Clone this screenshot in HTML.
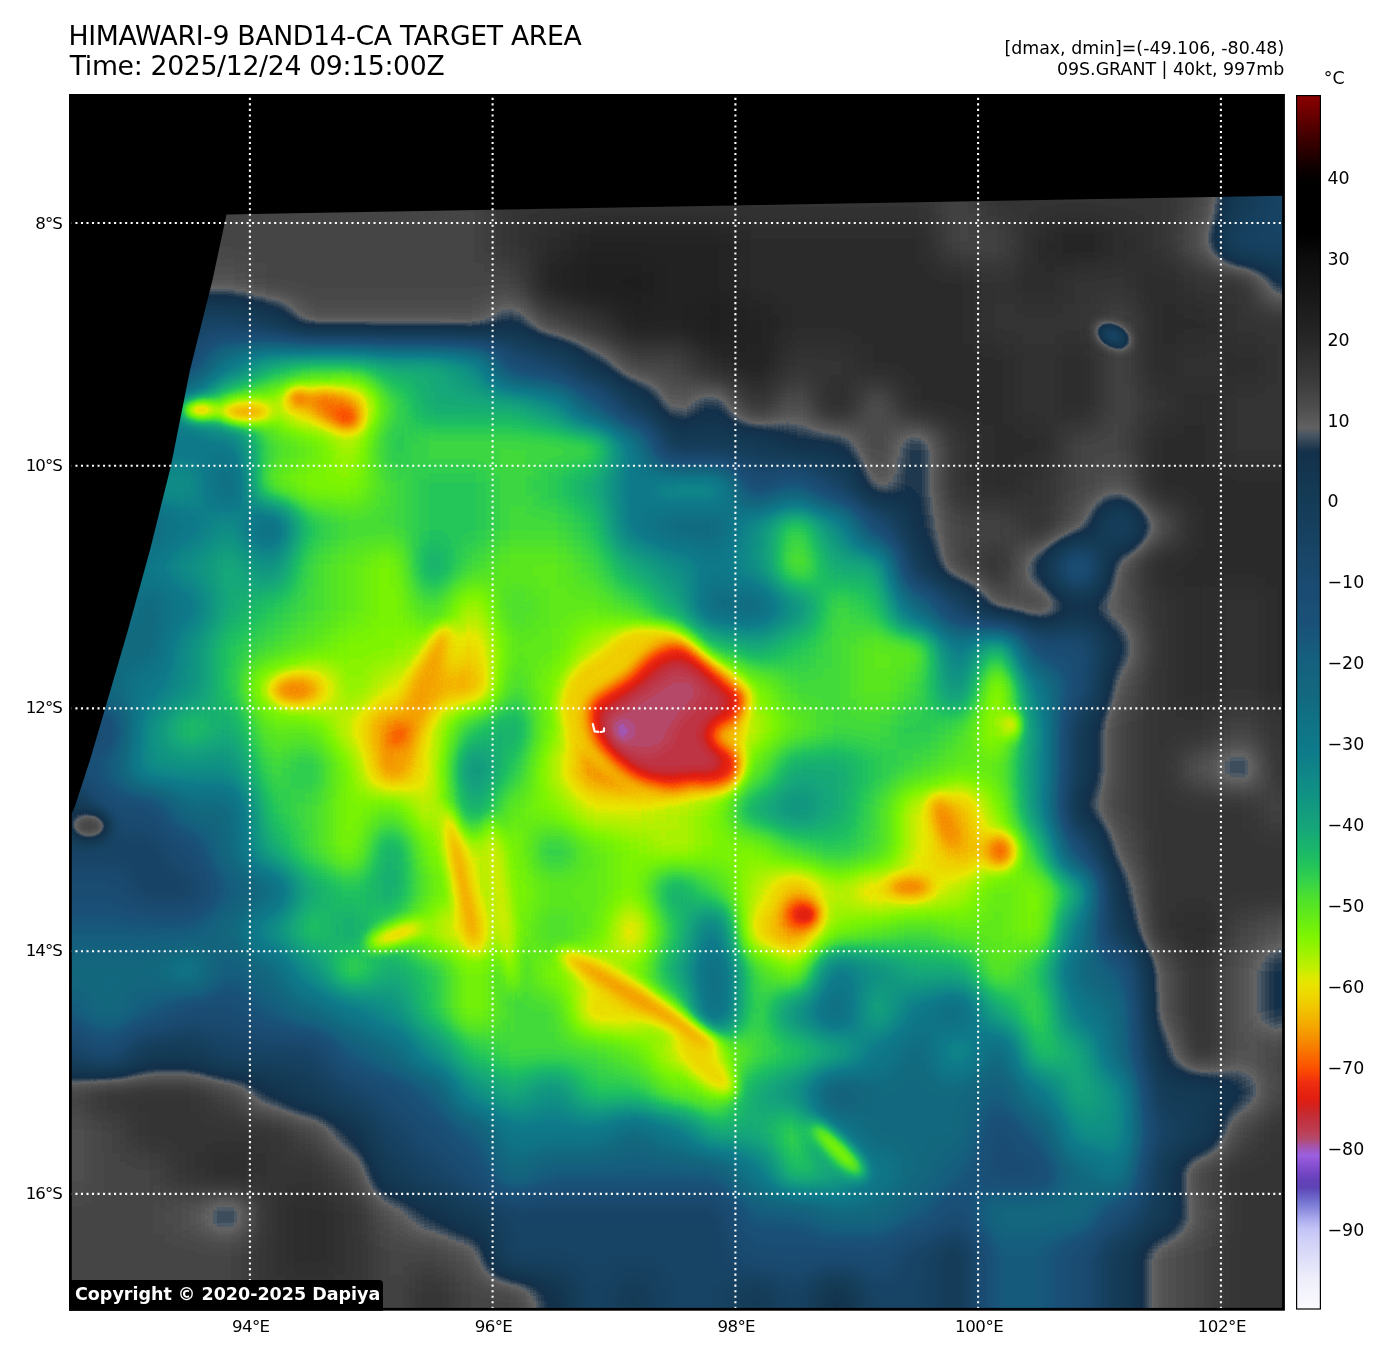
<!DOCTYPE html>
<html><head><meta charset="utf-8"><title>HIMAWARI-9 BAND14-CA TARGET AREA</title>
<style>html,body{margin:0;padding:0;background:#fff;}svg{display:block;}</style></head>
<body>
<svg width="1388" height="1359" viewBox="0 0 1388 1359" font-family="'DejaVu Sans','Liberation Sans',sans-serif">
<defs>
<filter id="bl" filterUnits="userSpaceOnUse" x="0" y="0" width="1388" height="1359" color-interpolation-filters="sRGB">
<feGaussianBlur in="SourceGraphic" stdDeviation="14" edgeMode="duplicate"/>
</filter>
<filter id="bl2" filterUnits="userSpaceOnUse" x="0" y="0" width="1388" height="1359" color-interpolation-filters="sRGB">
<feGaussianBlur stdDeviation="7"/>
</filter>
<filter id="cm" filterUnits="userSpaceOnUse" x="0" y="0" width="1388" height="1359" color-interpolation-filters="sRGB">
<feComponentTransfer>
<feFuncR type="table" tableValues="0.549 0.515 0.481 0.447 0.412 0.378 0.344 0.310 0.276 0.244 0.214 0.184 0.155 0.125 0.095 0.066 0.036 0.021 0.009 0.000 0.000 0.000 0.000 0.000 0.000 0.000 0.000 0.000 0.000 0.001 0.010 0.019 0.029 0.038 0.047 0.053 0.058 0.064 0.069 0.075 0.080 0.086 0.091 0.097 0.104 0.110 0.117 0.123 0.130 0.136 0.143 0.149 0.158 0.167 0.177 0.186 0.195 0.204 0.214 0.223 0.234 0.246 0.258 0.271 0.283 0.297 0.313 0.329 0.345 0.365 0.385 0.306 0.242 0.183 0.125 0.078 0.078 0.078 0.078 0.078 0.078 0.078 0.078 0.078 0.079 0.080 0.082 0.083 0.084 0.085 0.086 0.087 0.088 0.090 0.091 0.092 0.094 0.095 0.096 0.098 0.099 0.101 0.102 0.102 0.102 0.102 0.102 0.102 0.102 0.102 0.102 0.101 0.099 0.096 0.094 0.092 0.089 0.087 0.085 0.082 0.081 0.080 0.079 0.078 0.077 0.075 0.074 0.072 0.069 0.067 0.065 0.063 0.060 0.059 0.058 0.057 0.056 0.055 0.055 0.056 0.057 0.058 0.059 0.060 0.061 0.062 0.063 0.065 0.068 0.070 0.073 0.076 0.079 0.082 0.084 0.088 0.093 0.098 0.103 0.108 0.113 0.122 0.144 0.166 0.188 0.210 0.235 0.260 0.285 0.310 0.333 0.356 0.379 0.403 0.426 0.449 0.472 0.501 0.540 0.580 0.620 0.661 0.703 0.745 0.788 0.850 0.910 0.917 0.925 0.932 0.939 0.944 0.948 0.951 0.955 0.958 0.960 0.962 0.964 0.966 0.970 0.974 0.977 0.981 0.985 0.988 0.966 0.943 0.927 0.913 0.898 0.883 0.847 0.800 0.776 0.764 0.752 0.744 0.736 0.713 0.683 0.642 0.620 0.599 0.558 0.517 0.476 0.435 0.394 0.353 0.380 0.407 0.433 0.484 0.540 0.600 0.661 0.715 0.761 0.792 0.806 0.821 0.836 0.851 0.866 0.881 0.896 0.911 0.925 0.940 0.947 0.954 0.961 0.967 0.974 0.980"/>
<feFuncG type="table" tableValues="0.000 0.000 0.000 0.000 0.000 0.000 0.000 0.000 0.000 0.000 0.000 0.000 0.000 0.000 0.000 0.000 0.000 0.000 0.000 0.000 0.000 0.000 0.000 0.000 0.000 0.000 0.000 0.000 0.000 0.001 0.010 0.019 0.029 0.038 0.047 0.053 0.058 0.064 0.069 0.075 0.080 0.086 0.091 0.097 0.104 0.110 0.117 0.123 0.130 0.136 0.143 0.149 0.158 0.167 0.177 0.186 0.195 0.204 0.214 0.223 0.234 0.246 0.258 0.271 0.283 0.297 0.313 0.329 0.345 0.365 0.385 0.356 0.303 0.261 0.221 0.189 0.194 0.198 0.203 0.208 0.212 0.217 0.221 0.226 0.230 0.233 0.236 0.239 0.242 0.245 0.248 0.251 0.254 0.257 0.261 0.264 0.268 0.272 0.275 0.279 0.283 0.287 0.290 0.293 0.296 0.299 0.301 0.304 0.307 0.310 0.312 0.317 0.325 0.332 0.340 0.347 0.354 0.362 0.369 0.376 0.381 0.386 0.390 0.395 0.400 0.404 0.409 0.416 0.423 0.430 0.437 0.444 0.451 0.457 0.461 0.466 0.471 0.475 0.481 0.492 0.502 0.512 0.522 0.532 0.542 0.553 0.563 0.574 0.585 0.596 0.607 0.618 0.629 0.640 0.651 0.663 0.679 0.694 0.710 0.725 0.740 0.756 0.773 0.791 0.808 0.825 0.840 0.855 0.869 0.884 0.895 0.905 0.915 0.925 0.935 0.945 0.955 0.960 0.956 0.953 0.950 0.946 0.941 0.937 0.933 0.921 0.909 0.887 0.865 0.843 0.821 0.793 0.763 0.734 0.704 0.672 0.638 0.603 0.568 0.531 0.491 0.450 0.409 0.369 0.330 0.291 0.241 0.191 0.171 0.152 0.134 0.116 0.126 0.149 0.169 0.187 0.206 0.229 0.253 0.280 0.308 0.336 0.360 0.368 0.339 0.309 0.281 0.266 0.251 0.236 0.299 0.362 0.425 0.484 0.540 0.600 0.661 0.715 0.761 0.792 0.806 0.821 0.836 0.851 0.866 0.881 0.896 0.911 0.925 0.940 0.947 0.954 0.961 0.967 0.974 0.980"/>
<feFuncB type="table" tableValues="0.000 0.000 0.000 0.000 0.000 0.000 0.000 0.000 0.000 0.000 0.000 0.000 0.000 0.000 0.000 0.000 0.000 0.000 0.000 0.000 0.000 0.000 0.000 0.000 0.000 0.000 0.000 0.000 0.000 0.001 0.010 0.019 0.029 0.038 0.047 0.053 0.058 0.064 0.069 0.075 0.080 0.086 0.091 0.097 0.104 0.110 0.117 0.123 0.130 0.136 0.143 0.149 0.158 0.167 0.177 0.186 0.195 0.204 0.214 0.223 0.234 0.246 0.258 0.271 0.283 0.297 0.313 0.329 0.345 0.365 0.385 0.399 0.357 0.330 0.309 0.291 0.296 0.300 0.305 0.310 0.314 0.319 0.323 0.328 0.333 0.339 0.344 0.349 0.355 0.360 0.365 0.371 0.376 0.382 0.388 0.394 0.400 0.407 0.413 0.420 0.426 0.433 0.439 0.443 0.447 0.450 0.454 0.458 0.461 0.465 0.469 0.472 0.475 0.478 0.480 0.483 0.486 0.489 0.491 0.494 0.494 0.494 0.494 0.494 0.494 0.494 0.495 0.500 0.504 0.509 0.513 0.518 0.523 0.527 0.530 0.533 0.536 0.539 0.540 0.538 0.536 0.534 0.531 0.529 0.527 0.524 0.522 0.517 0.511 0.505 0.499 0.493 0.487 0.481 0.475 0.466 0.451 0.435 0.420 0.404 0.389 0.373 0.352 0.330 0.309 0.287 0.258 0.228 0.199 0.169 0.146 0.124 0.102 0.080 0.058 0.036 0.014 0.000 0.000 0.000 0.000 0.000 0.000 0.000 0.000 0.000 0.000 0.000 0.000 0.000 0.000 0.000 0.000 0.000 0.000 0.000 0.000 0.000 0.000 0.000 0.000 0.000 0.000 0.000 0.000 0.000 0.030 0.061 0.063 0.063 0.063 0.063 0.097 0.147 0.191 0.231 0.270 0.305 0.341 0.411 0.518 0.693 0.814 0.870 0.841 0.811 0.782 0.751 0.721 0.691 0.729 0.768 0.807 0.838 0.866 0.896 0.927 0.949 0.965 0.973 0.973 0.973 0.973 0.973 0.976 0.978 0.981 0.983 0.986 0.988 0.989 0.991 0.992 0.993 0.995 0.996"/>
<feFuncA type="identity"/>
</feComponentTransfer>
</filter>
<clipPath id="mc"><rect x="70" y="95" width="1214" height="1215"/></clipPath>
<linearGradient id="cbg" x1="0" y1="0" x2="0" y2="1">
<stop offset="0.0000" stop-color="#8c0000"/>
<stop offset="0.0067" stop-color="#7d0000"/>
<stop offset="0.0133" stop-color="#6e0000"/>
<stop offset="0.0200" stop-color="#600000"/>
<stop offset="0.0267" stop-color="#510000"/>
<stop offset="0.0333" stop-color="#420000"/>
<stop offset="0.0400" stop-color="#350000"/>
<stop offset="0.0467" stop-color="#280000"/>
<stop offset="0.0533" stop-color="#1b0000"/>
<stop offset="0.0600" stop-color="#0e0000"/>
<stop offset="0.0667" stop-color="#050000"/>
<stop offset="0.0733" stop-color="#000000"/>
<stop offset="0.0800" stop-color="#000000"/>
<stop offset="0.0867" stop-color="#000000"/>
<stop offset="0.0933" stop-color="#000000"/>
<stop offset="0.1000" stop-color="#000000"/>
<stop offset="0.1067" stop-color="#000000"/>
<stop offset="0.1133" stop-color="#000000"/>
<stop offset="0.1200" stop-color="#040404"/>
<stop offset="0.1267" stop-color="#080808"/>
<stop offset="0.1333" stop-color="#0c0c0c"/>
<stop offset="0.1400" stop-color="#0e0e0e"/>
<stop offset="0.1467" stop-color="#111111"/>
<stop offset="0.1533" stop-color="#131313"/>
<stop offset="0.1600" stop-color="#161616"/>
<stop offset="0.1667" stop-color="#181818"/>
<stop offset="0.1733" stop-color="#1b1b1b"/>
<stop offset="0.1800" stop-color="#1e1e1e"/>
<stop offset="0.1867" stop-color="#202020"/>
<stop offset="0.1933" stop-color="#232323"/>
<stop offset="0.2000" stop-color="#262626"/>
<stop offset="0.2067" stop-color="#2a2a2a"/>
<stop offset="0.2133" stop-color="#2e2e2e"/>
<stop offset="0.2200" stop-color="#323232"/>
<stop offset="0.2267" stop-color="#363636"/>
<stop offset="0.2333" stop-color="#3a3a3a"/>
<stop offset="0.2400" stop-color="#3f3f3f"/>
<stop offset="0.2467" stop-color="#454545"/>
<stop offset="0.2533" stop-color="#4a4a4a"/>
<stop offset="0.2600" stop-color="#515151"/>
<stop offset="0.2667" stop-color="#585858"/>
<stop offset="0.2733" stop-color="#616161"/>
<stop offset="0.2800" stop-color="#475562"/>
<stop offset="0.2867" stop-color="#2d4154"/>
<stop offset="0.2933" stop-color="#14304a"/>
<stop offset="0.3000" stop-color="#14324c"/>
<stop offset="0.3067" stop-color="#14344e"/>
<stop offset="0.3133" stop-color="#143650"/>
<stop offset="0.3200" stop-color="#143852"/>
<stop offset="0.3267" stop-color="#143a54"/>
<stop offset="0.3333" stop-color="#143b56"/>
<stop offset="0.3400" stop-color="#153d59"/>
<stop offset="0.3467" stop-color="#163e5b"/>
<stop offset="0.3533" stop-color="#163f5d"/>
<stop offset="0.3600" stop-color="#164160"/>
<stop offset="0.3667" stop-color="#174262"/>
<stop offset="0.3733" stop-color="#184465"/>
<stop offset="0.3800" stop-color="#184568"/>
<stop offset="0.3867" stop-color="#19476a"/>
<stop offset="0.3933" stop-color="#19486d"/>
<stop offset="0.4000" stop-color="#1a4a70"/>
<stop offset="0.4067" stop-color="#1a4b72"/>
<stop offset="0.4133" stop-color="#1a4c73"/>
<stop offset="0.4200" stop-color="#1a4e75"/>
<stop offset="0.4267" stop-color="#1a4f76"/>
<stop offset="0.4333" stop-color="#1a5078"/>
<stop offset="0.4400" stop-color="#195379"/>
<stop offset="0.4467" stop-color="#18567a"/>
<stop offset="0.4533" stop-color="#175a7c"/>
<stop offset="0.4600" stop-color="#165d7d"/>
<stop offset="0.4667" stop-color="#15607e"/>
<stop offset="0.4733" stop-color="#14627e"/>
<stop offset="0.4800" stop-color="#14647e"/>
<stop offset="0.4867" stop-color="#14667e"/>
<stop offset="0.4933" stop-color="#13687e"/>
<stop offset="0.5000" stop-color="#126b80"/>
<stop offset="0.5067" stop-color="#116e82"/>
<stop offset="0.5133" stop-color="#107184"/>
<stop offset="0.5200" stop-color="#0f7486"/>
<stop offset="0.5267" stop-color="#0f7687"/>
<stop offset="0.5333" stop-color="#0e7889"/>
<stop offset="0.5400" stop-color="#0e7a8a"/>
<stop offset="0.5467" stop-color="#0e7e89"/>
<stop offset="0.5533" stop-color="#0f8388"/>
<stop offset="0.5600" stop-color="#0f8787"/>
<stop offset="0.5667" stop-color="#108c86"/>
<stop offset="0.5733" stop-color="#109085"/>
<stop offset="0.5800" stop-color="#119582"/>
<stop offset="0.5867" stop-color="#129a80"/>
<stop offset="0.5933" stop-color="#149e7d"/>
<stop offset="0.6000" stop-color="#15a37b"/>
<stop offset="0.6067" stop-color="#16a878"/>
<stop offset="0.6133" stop-color="#18af71"/>
<stop offset="0.6200" stop-color="#1ab56b"/>
<stop offset="0.6267" stop-color="#1dbc64"/>
<stop offset="0.6333" stop-color="#22c35c"/>
<stop offset="0.6400" stop-color="#2bca53"/>
<stop offset="0.6467" stop-color="#35d24a"/>
<stop offset="0.6533" stop-color="#40d83d"/>
<stop offset="0.6600" stop-color="#4bdf30"/>
<stop offset="0.6667" stop-color="#55e425"/>
<stop offset="0.6733" stop-color="#5fe81c"/>
<stop offset="0.6800" stop-color="#69ed12"/>
<stop offset="0.6867" stop-color="#73f109"/>
<stop offset="0.6933" stop-color="#7ef500"/>
<stop offset="0.7000" stop-color="#8ff300"/>
<stop offset="0.7067" stop-color="#a0f200"/>
<stop offset="0.7133" stop-color="#b2f000"/>
<stop offset="0.7200" stop-color="#c4ee00"/>
<stop offset="0.7267" stop-color="#ddea00"/>
<stop offset="0.7333" stop-color="#eae200"/>
<stop offset="0.7400" stop-color="#edd900"/>
<stop offset="0.7467" stop-color="#f0cf00"/>
<stop offset="0.7533" stop-color="#f2c200"/>
<stop offset="0.7600" stop-color="#f3b500"/>
<stop offset="0.7667" stop-color="#f4a700"/>
<stop offset="0.7733" stop-color="#f59800"/>
<stop offset="0.7800" stop-color="#f68800"/>
<stop offset="0.7867" stop-color="#f87700"/>
<stop offset="0.7933" stop-color="#fa6500"/>
<stop offset="0.8000" stop-color="#fb5400"/>
<stop offset="0.8067" stop-color="#f84105"/>
<stop offset="0.8133" stop-color="#ef2e10"/>
<stop offset="0.8200" stop-color="#e82610"/>
<stop offset="0.8267" stop-color="#e21e10"/>
<stop offset="0.8333" stop-color="#d2231f"/>
<stop offset="0.8400" stop-color="#c52c33"/>
<stop offset="0.8467" stop-color="#c03444"/>
<stop offset="0.8533" stop-color="#bd3e53"/>
<stop offset="0.8600" stop-color="#b44a6e"/>
<stop offset="0.8667" stop-color="#a456b1"/>
<stop offset="0.8733" stop-color="#9c60e0"/>
<stop offset="0.8800" stop-color="#8a53d3"/>
<stop offset="0.8867" stop-color="#7847c7"/>
<stop offset="0.8933" stop-color="#6641b9"/>
<stop offset="0.9000" stop-color="#5d44b5"/>
<stop offset="0.9067" stop-color="#6960c6"/>
<stop offset="0.9133" stop-color="#7a7ad5"/>
<stop offset="0.9200" stop-color="#9393e1"/>
<stop offset="0.9267" stop-color="#adadef"/>
<stop offset="0.9333" stop-color="#c2c2f6"/>
<stop offset="0.9400" stop-color="#ccccf8"/>
<stop offset="0.9467" stop-color="#d3d3f8"/>
<stop offset="0.9533" stop-color="#d9d9f8"/>
<stop offset="0.9600" stop-color="#e0e0f9"/>
<stop offset="0.9667" stop-color="#e6e6fa"/>
<stop offset="0.9733" stop-color="#ededfb"/>
<stop offset="0.9800" stop-color="#f1f1fc"/>
<stop offset="0.9867" stop-color="#f4f4fd"/>
<stop offset="0.9933" stop-color="#f7f7fd"/>
<stop offset="1.0000" stop-color="#fafafe"/>
</linearGradient>
</defs>
<rect width="1388" height="1359" fill="#fff"/>
<g clip-path="url(#mc)">
<g filter="url(#cm)">
<g filter="url(#bl)" shape-rendering="crispEdges">
<rect x="0" y="0" width="493" height="102" fill="#3f3f3f"/>
<rect x="493" y="0" width="445" height="102" fill="#393939"/>
<rect x="938" y="0" width="40" height="102" fill="#3f3f3f"/>
<rect x="978" y="0" width="202" height="102" fill="#393939"/>
<rect x="1180" y="0" width="41" height="102" fill="#3f3f3f"/>
<rect x="1221" y="0" width="40" height="102" fill="#555555"/>
<rect x="1261" y="0" width="127" height="102" fill="#5f5f5f"/>
<rect x="0" y="102" width="493" height="40" fill="#3f3f3f"/>
<rect x="493" y="102" width="445" height="40" fill="#393939"/>
<rect x="938" y="102" width="40" height="40" fill="#3f3f3f"/>
<rect x="978" y="102" width="202" height="40" fill="#393939"/>
<rect x="1180" y="102" width="41" height="40" fill="#3f3f3f"/>
<rect x="1221" y="102" width="40" height="40" fill="#555555"/>
<rect x="1261" y="102" width="127" height="40" fill="#5f5f5f"/>
<rect x="0" y="142" width="493" height="41" fill="#3f3f3f"/>
<rect x="493" y="142" width="445" height="41" fill="#393939"/>
<rect x="938" y="142" width="40" height="41" fill="#3f3f3f"/>
<rect x="978" y="142" width="202" height="41" fill="#393939"/>
<rect x="1180" y="142" width="41" height="41" fill="#3f3f3f"/>
<rect x="1221" y="142" width="40" height="41" fill="#555555"/>
<rect x="1261" y="142" width="127" height="41" fill="#5f5f5f"/>
<rect x="0" y="183" width="493" height="40" fill="#3f3f3f"/>
<rect x="493" y="183" width="445" height="40" fill="#393939"/>
<rect x="938" y="183" width="40" height="40" fill="#3f3f3f"/>
<rect x="978" y="183" width="202" height="40" fill="#393939"/>
<rect x="1180" y="183" width="41" height="40" fill="#3f3f3f"/>
<rect x="1221" y="183" width="40" height="40" fill="#555555"/>
<rect x="1261" y="183" width="127" height="40" fill="#5f5f5f"/>
<rect x="0" y="223" width="493" height="40" fill="#3f3f3f"/>
<rect x="493" y="223" width="40" height="40" fill="#393939"/>
<rect x="533" y="223" width="41" height="40" fill="#353535"/>
<rect x="574" y="223" width="161" height="40" fill="#313131"/>
<rect x="735" y="223" width="203" height="40" fill="#353535"/>
<rect x="938" y="223" width="81" height="40" fill="#3f3f3f"/>
<rect x="1019" y="223" width="40" height="40" fill="#353535"/>
<rect x="1059" y="223" width="40" height="40" fill="#313131"/>
<rect x="1099" y="223" width="41" height="40" fill="#353535"/>
<rect x="1140" y="223" width="40" height="40" fill="#393939"/>
<rect x="1180" y="223" width="41" height="40" fill="#434343"/>
<rect x="1221" y="223" width="167" height="40" fill="#5f5f5f"/>
<rect x="0" y="263" width="250" height="41" fill="#434343"/>
<rect x="250" y="263" width="283" height="41" fill="#3f3f3f"/>
<rect x="533" y="263" width="41" height="41" fill="#313131"/>
<rect x="574" y="263" width="80" height="41" fill="#2e2e2e"/>
<rect x="654" y="263" width="81" height="41" fill="#313131"/>
<rect x="735" y="263" width="243" height="41" fill="#353535"/>
<rect x="978" y="263" width="41" height="41" fill="#393939"/>
<rect x="1019" y="263" width="40" height="41" fill="#353535"/>
<rect x="1059" y="263" width="81" height="41" fill="#393939"/>
<rect x="1140" y="263" width="40" height="41" fill="#353535"/>
<rect x="1180" y="263" width="81" height="41" fill="#393939"/>
<rect x="1261" y="263" width="127" height="41" fill="#4c4c4c"/>
<rect x="0" y="304" width="250" height="40" fill="#5f5f5f"/>
<rect x="250" y="304" width="40" height="40" fill="#555555"/>
<rect x="290" y="304" width="203" height="40" fill="#434343"/>
<rect x="493" y="304" width="40" height="40" fill="#4c4c4c"/>
<rect x="533" y="304" width="41" height="40" fill="#3f3f3f"/>
<rect x="574" y="304" width="40" height="40" fill="#393939"/>
<rect x="614" y="304" width="81" height="40" fill="#313131"/>
<rect x="695" y="304" width="40" height="40" fill="#2e2e2e"/>
<rect x="735" y="304" width="41" height="40" fill="#313131"/>
<rect x="776" y="304" width="202" height="40" fill="#353535"/>
<rect x="978" y="304" width="121" height="40" fill="#393939"/>
<rect x="1099" y="304" width="41" height="40" fill="#3f3f3f"/>
<rect x="1140" y="304" width="81" height="40" fill="#353535"/>
<rect x="1221" y="304" width="167" height="40" fill="#393939"/>
<rect x="0" y="344" width="209" height="41" fill="#696969"/>
<rect x="209" y="344" width="41" height="41" fill="#888888"/>
<rect x="250" y="344" width="40" height="41" fill="#9b9b9b"/>
<rect x="290" y="344" width="81" height="41" fill="#a2a2a2"/>
<rect x="371" y="344" width="81" height="41" fill="#9b9b9b"/>
<rect x="452" y="344" width="41" height="41" fill="#929292"/>
<rect x="493" y="344" width="40" height="41" fill="#696969"/>
<rect x="533" y="344" width="41" height="41" fill="#5f5f5f"/>
<rect x="574" y="344" width="40" height="41" fill="#4c4c4c"/>
<rect x="614" y="344" width="81" height="41" fill="#3f3f3f"/>
<rect x="695" y="344" width="40" height="41" fill="#353535"/>
<rect x="735" y="344" width="41" height="41" fill="#313131"/>
<rect x="776" y="344" width="81" height="41" fill="#393939"/>
<rect x="857" y="344" width="162" height="41" fill="#353535"/>
<rect x="1019" y="344" width="40" height="41" fill="#393939"/>
<rect x="1059" y="344" width="40" height="41" fill="#353535"/>
<rect x="1099" y="344" width="41" height="41" fill="#3f3f3f"/>
<rect x="1140" y="344" width="40" height="41" fill="#353535"/>
<rect x="1180" y="344" width="41" height="41" fill="#393939"/>
<rect x="1221" y="344" width="40" height="41" fill="#353535"/>
<rect x="1261" y="344" width="127" height="41" fill="#393939"/>
<rect x="0" y="385" width="209" height="40" fill="#929292"/>
<rect x="209" y="385" width="41" height="40" fill="#b1b1b1"/>
<rect x="250" y="385" width="40" height="40" fill="#b6b6b6"/>
<rect x="290" y="385" width="41" height="40" fill="#c4c4c4"/>
<rect x="331" y="385" width="40" height="40" fill="#c9c9c9"/>
<rect x="371" y="385" width="41" height="40" fill="#a7a7a7"/>
<rect x="412" y="385" width="121" height="40" fill="#9b9b9b"/>
<rect x="533" y="385" width="41" height="40" fill="#929292"/>
<rect x="574" y="385" width="40" height="40" fill="#747474"/>
<rect x="614" y="385" width="40" height="40" fill="#555555"/>
<rect x="654" y="385" width="41" height="40" fill="#434343"/>
<rect x="695" y="385" width="40" height="40" fill="#4c4c4c"/>
<rect x="735" y="385" width="41" height="40" fill="#393939"/>
<rect x="776" y="385" width="40" height="40" fill="#434343"/>
<rect x="816" y="385" width="41" height="40" fill="#353535"/>
<rect x="857" y="385" width="40" height="40" fill="#434343"/>
<rect x="897" y="385" width="122" height="40" fill="#353535"/>
<rect x="1019" y="385" width="40" height="40" fill="#393939"/>
<rect x="1059" y="385" width="40" height="40" fill="#353535"/>
<rect x="1099" y="385" width="41" height="40" fill="#3f3f3f"/>
<rect x="1140" y="385" width="40" height="40" fill="#393939"/>
<rect x="1180" y="385" width="41" height="40" fill="#353535"/>
<rect x="1221" y="385" width="167" height="40" fill="#393939"/>
<rect x="0" y="425" width="250" height="41" fill="#888888"/>
<rect x="250" y="425" width="40" height="41" fill="#a7a7a7"/>
<rect x="290" y="425" width="41" height="41" fill="#acacac"/>
<rect x="331" y="425" width="40" height="41" fill="#b6b6b6"/>
<rect x="371" y="425" width="41" height="41" fill="#a2a2a2"/>
<rect x="412" y="425" width="202" height="41" fill="#a7a7a7"/>
<rect x="614" y="425" width="40" height="41" fill="#888888"/>
<rect x="654" y="425" width="122" height="41" fill="#555555"/>
<rect x="776" y="425" width="81" height="41" fill="#4c4c4c"/>
<rect x="857" y="425" width="40" height="41" fill="#3f3f3f"/>
<rect x="897" y="425" width="41" height="41" fill="#4c4c4c"/>
<rect x="938" y="425" width="40" height="41" fill="#393939"/>
<rect x="978" y="425" width="81" height="41" fill="#353535"/>
<rect x="1059" y="425" width="81" height="41" fill="#3f3f3f"/>
<rect x="1140" y="425" width="81" height="41" fill="#353535"/>
<rect x="1221" y="425" width="167" height="41" fill="#393939"/>
<rect x="0" y="466" width="209" height="40" fill="#929292"/>
<rect x="209" y="466" width="41" height="40" fill="#7e7e7e"/>
<rect x="250" y="466" width="40" height="40" fill="#acacac"/>
<rect x="290" y="466" width="81" height="40" fill="#b1b1b1"/>
<rect x="371" y="466" width="41" height="40" fill="#a7a7a7"/>
<rect x="412" y="466" width="81" height="40" fill="#a2a2a2"/>
<rect x="493" y="466" width="40" height="40" fill="#a7a7a7"/>
<rect x="533" y="466" width="41" height="40" fill="#a2a2a2"/>
<rect x="574" y="466" width="40" height="40" fill="#9b9b9b"/>
<rect x="614" y="466" width="40" height="40" fill="#888888"/>
<rect x="654" y="466" width="81" height="40" fill="#929292"/>
<rect x="735" y="466" width="41" height="40" fill="#696969"/>
<rect x="776" y="466" width="40" height="40" fill="#747474"/>
<rect x="816" y="466" width="41" height="40" fill="#5f5f5f"/>
<rect x="857" y="466" width="40" height="40" fill="#434343"/>
<rect x="897" y="466" width="41" height="40" fill="#4c4c4c"/>
<rect x="938" y="466" width="40" height="40" fill="#393939"/>
<rect x="978" y="466" width="41" height="40" fill="#353535"/>
<rect x="1019" y="466" width="40" height="40" fill="#393939"/>
<rect x="1059" y="466" width="40" height="40" fill="#3f3f3f"/>
<rect x="1099" y="466" width="41" height="40" fill="#434343"/>
<rect x="1140" y="466" width="248" height="40" fill="#353535"/>
<rect x="0" y="506" width="169" height="41" fill="#7e7e7e"/>
<rect x="169" y="506" width="40" height="41" fill="#888888"/>
<rect x="209" y="506" width="41" height="41" fill="#929292"/>
<rect x="250" y="506" width="40" height="41" fill="#7e7e7e"/>
<rect x="290" y="506" width="41" height="41" fill="#a2a2a2"/>
<rect x="331" y="506" width="81" height="41" fill="#a7a7a7"/>
<rect x="412" y="506" width="81" height="41" fill="#a2a2a2"/>
<rect x="493" y="506" width="81" height="41" fill="#a7a7a7"/>
<rect x="574" y="506" width="40" height="41" fill="#a2a2a2"/>
<rect x="614" y="506" width="40" height="41" fill="#888888"/>
<rect x="654" y="506" width="81" height="41" fill="#7e7e7e"/>
<rect x="735" y="506" width="41" height="41" fill="#929292"/>
<rect x="776" y="506" width="40" height="41" fill="#a7a7a7"/>
<rect x="816" y="506" width="41" height="41" fill="#929292"/>
<rect x="857" y="506" width="40" height="41" fill="#696969"/>
<rect x="897" y="506" width="41" height="41" fill="#4c4c4c"/>
<rect x="938" y="506" width="81" height="41" fill="#3f3f3f"/>
<rect x="1019" y="506" width="40" height="41" fill="#393939"/>
<rect x="1059" y="506" width="40" height="41" fill="#434343"/>
<rect x="1099" y="506" width="41" height="41" fill="#5f5f5f"/>
<rect x="1140" y="506" width="40" height="41" fill="#434343"/>
<rect x="1180" y="506" width="208" height="41" fill="#353535"/>
<rect x="0" y="547" width="169" height="40" fill="#888888"/>
<rect x="169" y="547" width="40" height="40" fill="#929292"/>
<rect x="209" y="547" width="41" height="40" fill="#9b9b9b"/>
<rect x="250" y="547" width="40" height="40" fill="#929292"/>
<rect x="290" y="547" width="41" height="40" fill="#a7a7a7"/>
<rect x="331" y="547" width="40" height="40" fill="#acacac"/>
<rect x="371" y="547" width="41" height="40" fill="#b1b1b1"/>
<rect x="412" y="547" width="40" height="40" fill="#9b9b9b"/>
<rect x="452" y="547" width="41" height="40" fill="#a7a7a7"/>
<rect x="493" y="547" width="81" height="40" fill="#acacac"/>
<rect x="574" y="547" width="40" height="40" fill="#a7a7a7"/>
<rect x="614" y="547" width="40" height="40" fill="#9b9b9b"/>
<rect x="654" y="547" width="41" height="40" fill="#929292"/>
<rect x="695" y="547" width="40" height="40" fill="#888888"/>
<rect x="735" y="547" width="41" height="40" fill="#929292"/>
<rect x="776" y="547" width="40" height="40" fill="#acacac"/>
<rect x="816" y="547" width="81" height="40" fill="#9b9b9b"/>
<rect x="897" y="547" width="41" height="40" fill="#555555"/>
<rect x="938" y="547" width="40" height="40" fill="#3f3f3f"/>
<rect x="978" y="547" width="41" height="40" fill="#393939"/>
<rect x="1019" y="547" width="40" height="40" fill="#4c4c4c"/>
<rect x="1059" y="547" width="40" height="40" fill="#747474"/>
<rect x="1099" y="547" width="41" height="40" fill="#434343"/>
<rect x="1140" y="547" width="248" height="40" fill="#353535"/>
<rect x="0" y="587" width="129" height="41" fill="#888888"/>
<rect x="129" y="587" width="40" height="41" fill="#7e7e7e"/>
<rect x="169" y="587" width="40" height="41" fill="#888888"/>
<rect x="209" y="587" width="41" height="41" fill="#9b9b9b"/>
<rect x="250" y="587" width="40" height="41" fill="#a2a2a2"/>
<rect x="290" y="587" width="41" height="41" fill="#a7a7a7"/>
<rect x="331" y="587" width="40" height="41" fill="#acacac"/>
<rect x="371" y="587" width="41" height="41" fill="#b1b1b1"/>
<rect x="412" y="587" width="40" height="41" fill="#a7a7a7"/>
<rect x="452" y="587" width="41" height="41" fill="#b6b6b6"/>
<rect x="493" y="587" width="40" height="41" fill="#a7a7a7"/>
<rect x="533" y="587" width="81" height="41" fill="#acacac"/>
<rect x="614" y="587" width="40" height="41" fill="#a7a7a7"/>
<rect x="654" y="587" width="41" height="41" fill="#9b9b9b"/>
<rect x="695" y="587" width="81" height="41" fill="#7e7e7e"/>
<rect x="776" y="587" width="40" height="41" fill="#929292"/>
<rect x="816" y="587" width="41" height="41" fill="#a7a7a7"/>
<rect x="857" y="587" width="40" height="41" fill="#a2a2a2"/>
<rect x="897" y="587" width="41" height="41" fill="#7e7e7e"/>
<rect x="938" y="587" width="40" height="41" fill="#5f5f5f"/>
<rect x="978" y="587" width="41" height="41" fill="#434343"/>
<rect x="1019" y="587" width="40" height="41" fill="#3f3f3f"/>
<rect x="1059" y="587" width="40" height="41" fill="#4c4c4c"/>
<rect x="1099" y="587" width="41" height="41" fill="#434343"/>
<rect x="1140" y="587" width="40" height="41" fill="#393939"/>
<rect x="1180" y="587" width="41" height="41" fill="#353535"/>
<rect x="1221" y="587" width="40" height="41" fill="#393939"/>
<rect x="1261" y="587" width="127" height="41" fill="#353535"/>
<rect x="0" y="628" width="169" height="40" fill="#7e7e7e"/>
<rect x="169" y="628" width="40" height="40" fill="#929292"/>
<rect x="209" y="628" width="41" height="40" fill="#a2a2a2"/>
<rect x="250" y="628" width="40" height="40" fill="#a7a7a7"/>
<rect x="290" y="628" width="41" height="40" fill="#acacac"/>
<rect x="331" y="628" width="81" height="40" fill="#b1b1b1"/>
<rect x="412" y="628" width="40" height="40" fill="#b6b6b6"/>
<rect x="452" y="628" width="41" height="40" fill="#bebebe"/>
<rect x="493" y="628" width="81" height="40" fill="#acacac"/>
<rect x="574" y="628" width="40" height="40" fill="#b6b6b6"/>
<rect x="614" y="628" width="40" height="40" fill="#c4c4c4"/>
<rect x="654" y="628" width="41" height="40" fill="#bebebe"/>
<rect x="695" y="628" width="40" height="40" fill="#a2a2a2"/>
<rect x="735" y="628" width="41" height="40" fill="#9b9b9b"/>
<rect x="776" y="628" width="40" height="40" fill="#a2a2a2"/>
<rect x="816" y="628" width="41" height="40" fill="#a7a7a7"/>
<rect x="857" y="628" width="81" height="40" fill="#acacac"/>
<rect x="938" y="628" width="40" height="40" fill="#888888"/>
<rect x="978" y="628" width="41" height="40" fill="#a2a2a2"/>
<rect x="1019" y="628" width="80" height="40" fill="#696969"/>
<rect x="1099" y="628" width="41" height="40" fill="#4c4c4c"/>
<rect x="1140" y="628" width="40" height="40" fill="#393939"/>
<rect x="1180" y="628" width="41" height="40" fill="#353535"/>
<rect x="1221" y="628" width="40" height="40" fill="#393939"/>
<rect x="1261" y="628" width="127" height="40" fill="#353535"/>
<rect x="0" y="668" width="129" height="40" fill="#7e7e7e"/>
<rect x="129" y="668" width="40" height="40" fill="#888888"/>
<rect x="169" y="668" width="40" height="40" fill="#929292"/>
<rect x="209" y="668" width="41" height="40" fill="#a2a2a2"/>
<rect x="250" y="668" width="40" height="40" fill="#b9b9b9"/>
<rect x="290" y="668" width="41" height="40" fill="#c4c4c4"/>
<rect x="331" y="668" width="40" height="40" fill="#b1b1b1"/>
<rect x="371" y="668" width="41" height="40" fill="#b9b9b9"/>
<rect x="412" y="668" width="81" height="40" fill="#c4c4c4"/>
<rect x="493" y="668" width="40" height="40" fill="#a7a7a7"/>
<rect x="533" y="668" width="41" height="40" fill="#b1b1b1"/>
<rect x="574" y="668" width="40" height="40" fill="#c9c9c9"/>
<rect x="614" y="668" width="40" height="40" fill="#d3d3d3"/>
<rect x="654" y="668" width="41" height="40" fill="#d8d8d8"/>
<rect x="695" y="668" width="40" height="40" fill="#cecece"/>
<rect x="735" y="668" width="41" height="40" fill="#b1b1b1"/>
<rect x="776" y="668" width="81" height="40" fill="#a7a7a7"/>
<rect x="857" y="668" width="40" height="40" fill="#acacac"/>
<rect x="897" y="668" width="41" height="40" fill="#a7a7a7"/>
<rect x="938" y="668" width="40" height="40" fill="#929292"/>
<rect x="978" y="668" width="41" height="40" fill="#b6b6b6"/>
<rect x="1019" y="668" width="40" height="40" fill="#888888"/>
<rect x="1059" y="668" width="40" height="40" fill="#696969"/>
<rect x="1099" y="668" width="41" height="40" fill="#434343"/>
<rect x="1140" y="668" width="40" height="40" fill="#393939"/>
<rect x="1180" y="668" width="41" height="40" fill="#353535"/>
<rect x="1221" y="668" width="40" height="40" fill="#393939"/>
<rect x="1261" y="668" width="127" height="40" fill="#353535"/>
<rect x="0" y="708" width="129" height="41" fill="#696969"/>
<rect x="129" y="708" width="40" height="41" fill="#929292"/>
<rect x="169" y="708" width="40" height="41" fill="#a2a2a2"/>
<rect x="209" y="708" width="41" height="41" fill="#9b9b9b"/>
<rect x="250" y="708" width="81" height="41" fill="#acacac"/>
<rect x="331" y="708" width="40" height="41" fill="#b9b9b9"/>
<rect x="371" y="708" width="41" height="41" fill="#c9c9c9"/>
<rect x="412" y="708" width="40" height="41" fill="#b9b9b9"/>
<rect x="452" y="708" width="41" height="41" fill="#a2a2a2"/>
<rect x="493" y="708" width="40" height="41" fill="#9b9b9b"/>
<rect x="533" y="708" width="41" height="41" fill="#b1b1b1"/>
<rect x="574" y="708" width="40" height="41" fill="#c9c9c9"/>
<rect x="614" y="708" width="40" height="41" fill="#dbdbdb"/>
<rect x="654" y="708" width="41" height="41" fill="#d8d8d8"/>
<rect x="695" y="708" width="40" height="41" fill="#cecece"/>
<rect x="735" y="708" width="41" height="41" fill="#b6b6b6"/>
<rect x="776" y="708" width="40" height="41" fill="#acacac"/>
<rect x="816" y="708" width="81" height="41" fill="#a7a7a7"/>
<rect x="897" y="708" width="41" height="41" fill="#a2a2a2"/>
<rect x="938" y="708" width="40" height="41" fill="#a7a7a7"/>
<rect x="978" y="708" width="41" height="41" fill="#b6b6b6"/>
<rect x="1019" y="708" width="40" height="41" fill="#929292"/>
<rect x="1059" y="708" width="40" height="41" fill="#555555"/>
<rect x="1099" y="708" width="41" height="41" fill="#3f3f3f"/>
<rect x="1140" y="708" width="81" height="41" fill="#393939"/>
<rect x="1221" y="708" width="40" height="41" fill="#3f3f3f"/>
<rect x="1261" y="708" width="127" height="41" fill="#393939"/>
<rect x="0" y="749" width="88" height="40" fill="#696969"/>
<rect x="88" y="749" width="41" height="40" fill="#747474"/>
<rect x="129" y="749" width="121" height="40" fill="#929292"/>
<rect x="250" y="749" width="40" height="40" fill="#a7a7a7"/>
<rect x="290" y="749" width="41" height="40" fill="#a2a2a2"/>
<rect x="331" y="749" width="40" height="40" fill="#b1b1b1"/>
<rect x="371" y="749" width="41" height="40" fill="#c9c9c9"/>
<rect x="412" y="749" width="40" height="40" fill="#b9b9b9"/>
<rect x="452" y="749" width="41" height="40" fill="#929292"/>
<rect x="493" y="749" width="40" height="40" fill="#a2a2a2"/>
<rect x="533" y="749" width="41" height="40" fill="#b6b6b6"/>
<rect x="574" y="749" width="40" height="40" fill="#c9c9c9"/>
<rect x="614" y="749" width="81" height="40" fill="#d3d3d3"/>
<rect x="695" y="749" width="40" height="40" fill="#c9c9c9"/>
<rect x="735" y="749" width="41" height="40" fill="#acacac"/>
<rect x="776" y="749" width="81" height="40" fill="#9b9b9b"/>
<rect x="857" y="749" width="40" height="40" fill="#a2a2a2"/>
<rect x="897" y="749" width="41" height="40" fill="#a7a7a7"/>
<rect x="938" y="749" width="81" height="40" fill="#acacac"/>
<rect x="1019" y="749" width="40" height="40" fill="#929292"/>
<rect x="1059" y="749" width="40" height="40" fill="#555555"/>
<rect x="1099" y="749" width="41" height="40" fill="#3f3f3f"/>
<rect x="1140" y="749" width="40" height="40" fill="#393939"/>
<rect x="1180" y="749" width="41" height="40" fill="#434343"/>
<rect x="1221" y="749" width="40" height="40" fill="#4c4c4c"/>
<rect x="1261" y="749" width="127" height="40" fill="#393939"/>
<rect x="0" y="789" width="88" height="41" fill="#4c4c4c"/>
<rect x="88" y="789" width="81" height="41" fill="#696969"/>
<rect x="169" y="789" width="81" height="41" fill="#7e7e7e"/>
<rect x="250" y="789" width="40" height="41" fill="#a2a2a2"/>
<rect x="290" y="789" width="41" height="41" fill="#a7a7a7"/>
<rect x="331" y="789" width="40" height="41" fill="#b1b1b1"/>
<rect x="371" y="789" width="41" height="41" fill="#acacac"/>
<rect x="412" y="789" width="40" height="41" fill="#b9b9b9"/>
<rect x="452" y="789" width="41" height="41" fill="#9b9b9b"/>
<rect x="493" y="789" width="40" height="41" fill="#acacac"/>
<rect x="533" y="789" width="41" height="41" fill="#b1b1b1"/>
<rect x="574" y="789" width="80" height="41" fill="#b9b9b9"/>
<rect x="654" y="789" width="41" height="41" fill="#b6b6b6"/>
<rect x="695" y="789" width="40" height="41" fill="#b1b1b1"/>
<rect x="735" y="789" width="41" height="41" fill="#9b9b9b"/>
<rect x="776" y="789" width="40" height="41" fill="#929292"/>
<rect x="816" y="789" width="41" height="41" fill="#9b9b9b"/>
<rect x="857" y="789" width="40" height="41" fill="#a7a7a7"/>
<rect x="897" y="789" width="41" height="41" fill="#b9b9b9"/>
<rect x="938" y="789" width="40" height="41" fill="#c4c4c4"/>
<rect x="978" y="789" width="41" height="41" fill="#b1b1b1"/>
<rect x="1019" y="789" width="40" height="41" fill="#929292"/>
<rect x="1059" y="789" width="40" height="41" fill="#4c4c4c"/>
<rect x="1099" y="789" width="41" height="41" fill="#3f3f3f"/>
<rect x="1140" y="789" width="121" height="41" fill="#393939"/>
<rect x="1261" y="789" width="127" height="41" fill="#3f3f3f"/>
<rect x="0" y="830" width="169" height="40" fill="#5f5f5f"/>
<rect x="169" y="830" width="40" height="40" fill="#696969"/>
<rect x="209" y="830" width="41" height="40" fill="#7e7e7e"/>
<rect x="250" y="830" width="40" height="40" fill="#9b9b9b"/>
<rect x="290" y="830" width="41" height="40" fill="#a7a7a7"/>
<rect x="331" y="830" width="40" height="40" fill="#b1b1b1"/>
<rect x="371" y="830" width="41" height="40" fill="#9b9b9b"/>
<rect x="412" y="830" width="40" height="40" fill="#b1b1b1"/>
<rect x="452" y="830" width="41" height="40" fill="#b9b9b9"/>
<rect x="493" y="830" width="40" height="40" fill="#b1b1b1"/>
<rect x="533" y="830" width="41" height="40" fill="#a2a2a2"/>
<rect x="574" y="830" width="40" height="40" fill="#acacac"/>
<rect x="614" y="830" width="40" height="40" fill="#b1b1b1"/>
<rect x="654" y="830" width="41" height="40" fill="#b6b6b6"/>
<rect x="695" y="830" width="81" height="40" fill="#b1b1b1"/>
<rect x="776" y="830" width="40" height="40" fill="#a7a7a7"/>
<rect x="816" y="830" width="41" height="40" fill="#a2a2a2"/>
<rect x="857" y="830" width="40" height="40" fill="#a7a7a7"/>
<rect x="897" y="830" width="41" height="40" fill="#b9b9b9"/>
<rect x="938" y="830" width="40" height="40" fill="#c4c4c4"/>
<rect x="978" y="830" width="41" height="40" fill="#bebebe"/>
<rect x="1019" y="830" width="40" height="40" fill="#a2a2a2"/>
<rect x="1059" y="830" width="40" height="40" fill="#696969"/>
<rect x="1099" y="830" width="41" height="40" fill="#434343"/>
<rect x="1140" y="830" width="248" height="40" fill="#393939"/>
<rect x="0" y="870" width="129" height="41" fill="#696969"/>
<rect x="129" y="870" width="80" height="41" fill="#5f5f5f"/>
<rect x="209" y="870" width="41" height="41" fill="#747474"/>
<rect x="250" y="870" width="40" height="41" fill="#7e7e7e"/>
<rect x="290" y="870" width="41" height="41" fill="#9b9b9b"/>
<rect x="331" y="870" width="40" height="41" fill="#a2a2a2"/>
<rect x="371" y="870" width="41" height="41" fill="#9b9b9b"/>
<rect x="412" y="870" width="40" height="41" fill="#acacac"/>
<rect x="452" y="870" width="41" height="41" fill="#b9b9b9"/>
<rect x="493" y="870" width="40" height="41" fill="#b1b1b1"/>
<rect x="533" y="870" width="81" height="41" fill="#acacac"/>
<rect x="614" y="870" width="40" height="41" fill="#b1b1b1"/>
<rect x="654" y="870" width="41" height="41" fill="#9b9b9b"/>
<rect x="695" y="870" width="40" height="41" fill="#a7a7a7"/>
<rect x="735" y="870" width="41" height="41" fill="#b6b6b6"/>
<rect x="776" y="870" width="40" height="41" fill="#c4c4c4"/>
<rect x="816" y="870" width="41" height="41" fill="#b6b6b6"/>
<rect x="857" y="870" width="81" height="41" fill="#bebebe"/>
<rect x="938" y="870" width="40" height="41" fill="#b6b6b6"/>
<rect x="978" y="870" width="41" height="41" fill="#acacac"/>
<rect x="1019" y="870" width="40" height="41" fill="#b1b1b1"/>
<rect x="1059" y="870" width="40" height="41" fill="#9b9b9b"/>
<rect x="1099" y="870" width="41" height="41" fill="#4c4c4c"/>
<rect x="1140" y="870" width="248" height="41" fill="#393939"/>
<rect x="0" y="911" width="209" height="40" fill="#747474"/>
<rect x="209" y="911" width="41" height="40" fill="#7e7e7e"/>
<rect x="250" y="911" width="40" height="40" fill="#929292"/>
<rect x="290" y="911" width="41" height="40" fill="#a2a2a2"/>
<rect x="331" y="911" width="40" height="40" fill="#9b9b9b"/>
<rect x="371" y="911" width="41" height="40" fill="#a7a7a7"/>
<rect x="412" y="911" width="40" height="40" fill="#b6b6b6"/>
<rect x="452" y="911" width="41" height="40" fill="#bebebe"/>
<rect x="493" y="911" width="40" height="40" fill="#b1b1b1"/>
<rect x="533" y="911" width="41" height="40" fill="#a7a7a7"/>
<rect x="574" y="911" width="40" height="40" fill="#acacac"/>
<rect x="614" y="911" width="40" height="40" fill="#bebebe"/>
<rect x="654" y="911" width="41" height="40" fill="#a2a2a2"/>
<rect x="695" y="911" width="40" height="40" fill="#888888"/>
<rect x="735" y="911" width="41" height="40" fill="#bebebe"/>
<rect x="776" y="911" width="40" height="40" fill="#c9c9c9"/>
<rect x="816" y="911" width="41" height="40" fill="#b1b1b1"/>
<rect x="857" y="911" width="40" height="40" fill="#acacac"/>
<rect x="897" y="911" width="41" height="40" fill="#a7a7a7"/>
<rect x="938" y="911" width="81" height="40" fill="#acacac"/>
<rect x="1019" y="911" width="40" height="40" fill="#b1b1b1"/>
<rect x="1059" y="911" width="40" height="40" fill="#888888"/>
<rect x="1099" y="911" width="41" height="40" fill="#555555"/>
<rect x="1140" y="911" width="40" height="40" fill="#393939"/>
<rect x="1180" y="911" width="41" height="40" fill="#353535"/>
<rect x="1221" y="911" width="40" height="40" fill="#3f3f3f"/>
<rect x="1261" y="911" width="127" height="40" fill="#434343"/>
<rect x="0" y="951" width="169" height="41" fill="#7e7e7e"/>
<rect x="169" y="951" width="40" height="41" fill="#888888"/>
<rect x="209" y="951" width="41" height="41" fill="#747474"/>
<rect x="250" y="951" width="40" height="41" fill="#7e7e7e"/>
<rect x="290" y="951" width="41" height="41" fill="#929292"/>
<rect x="331" y="951" width="40" height="41" fill="#a7a7a7"/>
<rect x="371" y="951" width="41" height="41" fill="#9b9b9b"/>
<rect x="412" y="951" width="40" height="41" fill="#a2a2a2"/>
<rect x="452" y="951" width="41" height="41" fill="#b1b1b1"/>
<rect x="493" y="951" width="40" height="41" fill="#a7a7a7"/>
<rect x="533" y="951" width="41" height="41" fill="#b1b1b1"/>
<rect x="574" y="951" width="40" height="41" fill="#b9b9b9"/>
<rect x="614" y="951" width="40" height="41" fill="#b1b1b1"/>
<rect x="654" y="951" width="41" height="41" fill="#9b9b9b"/>
<rect x="695" y="951" width="40" height="41" fill="#7e7e7e"/>
<rect x="735" y="951" width="41" height="41" fill="#a7a7a7"/>
<rect x="776" y="951" width="40" height="41" fill="#b1b1b1"/>
<rect x="816" y="951" width="41" height="41" fill="#888888"/>
<rect x="857" y="951" width="40" height="41" fill="#929292"/>
<rect x="897" y="951" width="81" height="41" fill="#9b9b9b"/>
<rect x="978" y="951" width="41" height="41" fill="#acacac"/>
<rect x="1019" y="951" width="40" height="41" fill="#a2a2a2"/>
<rect x="1059" y="951" width="40" height="41" fill="#7e7e7e"/>
<rect x="1099" y="951" width="41" height="41" fill="#747474"/>
<rect x="1140" y="951" width="40" height="41" fill="#434343"/>
<rect x="1180" y="951" width="41" height="41" fill="#393939"/>
<rect x="1221" y="951" width="40" height="41" fill="#434343"/>
<rect x="1261" y="951" width="127" height="41" fill="#4c4c4c"/>
<rect x="0" y="992" width="88" height="40" fill="#747474"/>
<rect x="88" y="992" width="41" height="40" fill="#7e7e7e"/>
<rect x="129" y="992" width="40" height="40" fill="#747474"/>
<rect x="169" y="992" width="81" height="40" fill="#696969"/>
<rect x="250" y="992" width="40" height="40" fill="#747474"/>
<rect x="290" y="992" width="41" height="40" fill="#7e7e7e"/>
<rect x="331" y="992" width="40" height="40" fill="#888888"/>
<rect x="371" y="992" width="41" height="40" fill="#929292"/>
<rect x="412" y="992" width="40" height="40" fill="#a2a2a2"/>
<rect x="452" y="992" width="41" height="40" fill="#b1b1b1"/>
<rect x="493" y="992" width="81" height="40" fill="#a7a7a7"/>
<rect x="574" y="992" width="80" height="40" fill="#bebebe"/>
<rect x="654" y="992" width="41" height="40" fill="#acacac"/>
<rect x="695" y="992" width="40" height="40" fill="#7e7e7e"/>
<rect x="735" y="992" width="41" height="40" fill="#a7a7a7"/>
<rect x="776" y="992" width="40" height="40" fill="#929292"/>
<rect x="816" y="992" width="41" height="40" fill="#7e7e7e"/>
<rect x="857" y="992" width="40" height="40" fill="#9b9b9b"/>
<rect x="897" y="992" width="41" height="40" fill="#888888"/>
<rect x="938" y="992" width="40" height="40" fill="#7e7e7e"/>
<rect x="978" y="992" width="41" height="40" fill="#9b9b9b"/>
<rect x="1019" y="992" width="40" height="40" fill="#a7a7a7"/>
<rect x="1059" y="992" width="40" height="40" fill="#888888"/>
<rect x="1099" y="992" width="41" height="40" fill="#7e7e7e"/>
<rect x="1140" y="992" width="40" height="40" fill="#434343"/>
<rect x="1180" y="992" width="41" height="40" fill="#393939"/>
<rect x="1221" y="992" width="40" height="40" fill="#434343"/>
<rect x="1261" y="992" width="127" height="40" fill="#4c4c4c"/>
<rect x="0" y="1032" width="88" height="41" fill="#5f5f5f"/>
<rect x="88" y="1032" width="41" height="41" fill="#696969"/>
<rect x="129" y="1032" width="80" height="41" fill="#555555"/>
<rect x="209" y="1032" width="122" height="41" fill="#5f5f5f"/>
<rect x="331" y="1032" width="40" height="41" fill="#747474"/>
<rect x="371" y="1032" width="41" height="41" fill="#7e7e7e"/>
<rect x="412" y="1032" width="40" height="41" fill="#929292"/>
<rect x="452" y="1032" width="41" height="41" fill="#a2a2a2"/>
<rect x="493" y="1032" width="121" height="41" fill="#a7a7a7"/>
<rect x="614" y="1032" width="40" height="41" fill="#acacac"/>
<rect x="654" y="1032" width="41" height="41" fill="#b9b9b9"/>
<rect x="695" y="1032" width="40" height="41" fill="#b6b6b6"/>
<rect x="735" y="1032" width="41" height="41" fill="#a7a7a7"/>
<rect x="776" y="1032" width="40" height="41" fill="#a2a2a2"/>
<rect x="816" y="1032" width="41" height="41" fill="#9b9b9b"/>
<rect x="857" y="1032" width="40" height="41" fill="#888888"/>
<rect x="897" y="1032" width="41" height="41" fill="#7e7e7e"/>
<rect x="938" y="1032" width="40" height="41" fill="#929292"/>
<rect x="978" y="1032" width="41" height="41" fill="#7e7e7e"/>
<rect x="1019" y="1032" width="40" height="41" fill="#a2a2a2"/>
<rect x="1059" y="1032" width="40" height="41" fill="#9b9b9b"/>
<rect x="1099" y="1032" width="41" height="41" fill="#7e7e7e"/>
<rect x="1140" y="1032" width="40" height="41" fill="#4c4c4c"/>
<rect x="1180" y="1032" width="41" height="41" fill="#393939"/>
<rect x="1221" y="1032" width="40" height="41" fill="#434343"/>
<rect x="1261" y="1032" width="127" height="41" fill="#3f3f3f"/>
<rect x="0" y="1073" width="88" height="40" fill="#3f3f3f"/>
<rect x="88" y="1073" width="121" height="40" fill="#393939"/>
<rect x="209" y="1073" width="41" height="40" fill="#3f3f3f"/>
<rect x="250" y="1073" width="40" height="40" fill="#4c4c4c"/>
<rect x="290" y="1073" width="41" height="40" fill="#555555"/>
<rect x="331" y="1073" width="40" height="40" fill="#5f5f5f"/>
<rect x="371" y="1073" width="41" height="40" fill="#696969"/>
<rect x="412" y="1073" width="40" height="40" fill="#747474"/>
<rect x="452" y="1073" width="41" height="40" fill="#929292"/>
<rect x="493" y="1073" width="40" height="40" fill="#9b9b9b"/>
<rect x="533" y="1073" width="41" height="40" fill="#929292"/>
<rect x="574" y="1073" width="80" height="40" fill="#a2a2a2"/>
<rect x="654" y="1073" width="41" height="40" fill="#acacac"/>
<rect x="695" y="1073" width="40" height="40" fill="#b1b1b1"/>
<rect x="735" y="1073" width="41" height="40" fill="#9b9b9b"/>
<rect x="776" y="1073" width="40" height="40" fill="#929292"/>
<rect x="816" y="1073" width="41" height="40" fill="#747474"/>
<rect x="857" y="1073" width="121" height="40" fill="#7e7e7e"/>
<rect x="978" y="1073" width="41" height="40" fill="#747474"/>
<rect x="1019" y="1073" width="40" height="40" fill="#888888"/>
<rect x="1059" y="1073" width="40" height="40" fill="#9b9b9b"/>
<rect x="1099" y="1073" width="41" height="40" fill="#929292"/>
<rect x="1140" y="1073" width="81" height="40" fill="#555555"/>
<rect x="1221" y="1073" width="40" height="40" fill="#4c4c4c"/>
<rect x="1261" y="1073" width="127" height="40" fill="#3f3f3f"/>
<rect x="0" y="1113" width="88" height="40" fill="#434343"/>
<rect x="88" y="1113" width="41" height="40" fill="#3f3f3f"/>
<rect x="129" y="1113" width="161" height="40" fill="#393939"/>
<rect x="290" y="1113" width="41" height="40" fill="#3f3f3f"/>
<rect x="331" y="1113" width="40" height="40" fill="#4c4c4c"/>
<rect x="371" y="1113" width="41" height="40" fill="#5f5f5f"/>
<rect x="412" y="1113" width="40" height="40" fill="#696969"/>
<rect x="452" y="1113" width="41" height="40" fill="#747474"/>
<rect x="493" y="1113" width="121" height="40" fill="#888888"/>
<rect x="614" y="1113" width="40" height="40" fill="#7e7e7e"/>
<rect x="654" y="1113" width="41" height="40" fill="#888888"/>
<rect x="695" y="1113" width="81" height="40" fill="#9b9b9b"/>
<rect x="776" y="1113" width="40" height="40" fill="#a7a7a7"/>
<rect x="816" y="1113" width="41" height="40" fill="#888888"/>
<rect x="857" y="1113" width="121" height="40" fill="#7e7e7e"/>
<rect x="978" y="1113" width="41" height="40" fill="#696969"/>
<rect x="1019" y="1113" width="40" height="40" fill="#747474"/>
<rect x="1059" y="1113" width="81" height="40" fill="#929292"/>
<rect x="1140" y="1113" width="40" height="40" fill="#5f5f5f"/>
<rect x="1180" y="1113" width="41" height="40" fill="#555555"/>
<rect x="1221" y="1113" width="40" height="40" fill="#3f3f3f"/>
<rect x="1261" y="1113" width="127" height="40" fill="#393939"/>
<rect x="0" y="1153" width="88" height="41" fill="#434343"/>
<rect x="88" y="1153" width="81" height="41" fill="#3f3f3f"/>
<rect x="169" y="1153" width="40" height="41" fill="#393939"/>
<rect x="209" y="1153" width="41" height="41" fill="#353535"/>
<rect x="250" y="1153" width="81" height="41" fill="#393939"/>
<rect x="331" y="1153" width="40" height="41" fill="#3f3f3f"/>
<rect x="371" y="1153" width="41" height="41" fill="#555555"/>
<rect x="412" y="1153" width="40" height="41" fill="#5f5f5f"/>
<rect x="452" y="1153" width="41" height="41" fill="#696969"/>
<rect x="493" y="1153" width="40" height="41" fill="#7e7e7e"/>
<rect x="533" y="1153" width="202" height="41" fill="#747474"/>
<rect x="735" y="1153" width="41" height="41" fill="#888888"/>
<rect x="776" y="1153" width="40" height="41" fill="#a2a2a2"/>
<rect x="816" y="1153" width="41" height="41" fill="#9b9b9b"/>
<rect x="857" y="1153" width="40" height="41" fill="#888888"/>
<rect x="897" y="1153" width="41" height="41" fill="#7e7e7e"/>
<rect x="938" y="1153" width="40" height="41" fill="#747474"/>
<rect x="978" y="1153" width="81" height="41" fill="#696969"/>
<rect x="1059" y="1153" width="40" height="41" fill="#7e7e7e"/>
<rect x="1099" y="1153" width="41" height="41" fill="#888888"/>
<rect x="1140" y="1153" width="40" height="41" fill="#555555"/>
<rect x="1180" y="1153" width="41" height="41" fill="#3f3f3f"/>
<rect x="1221" y="1153" width="167" height="41" fill="#393939"/>
<rect x="0" y="1194" width="169" height="40" fill="#3f3f3f"/>
<rect x="169" y="1194" width="40" height="40" fill="#434343"/>
<rect x="209" y="1194" width="41" height="40" fill="#4c4c4c"/>
<rect x="250" y="1194" width="40" height="40" fill="#393939"/>
<rect x="290" y="1194" width="41" height="40" fill="#353535"/>
<rect x="331" y="1194" width="40" height="40" fill="#393939"/>
<rect x="371" y="1194" width="41" height="40" fill="#434343"/>
<rect x="412" y="1194" width="40" height="40" fill="#4c4c4c"/>
<rect x="452" y="1194" width="41" height="40" fill="#555555"/>
<rect x="493" y="1194" width="242" height="40" fill="#5f5f5f"/>
<rect x="735" y="1194" width="81" height="40" fill="#747474"/>
<rect x="816" y="1194" width="81" height="40" fill="#7e7e7e"/>
<rect x="897" y="1194" width="41" height="40" fill="#747474"/>
<rect x="938" y="1194" width="40" height="40" fill="#696969"/>
<rect x="978" y="1194" width="121" height="40" fill="#7e7e7e"/>
<rect x="1099" y="1194" width="41" height="40" fill="#696969"/>
<rect x="1140" y="1194" width="40" height="40" fill="#555555"/>
<rect x="1180" y="1194" width="41" height="40" fill="#434343"/>
<rect x="1221" y="1194" width="167" height="40" fill="#393939"/>
<rect x="0" y="1234" width="250" height="41" fill="#3f3f3f"/>
<rect x="250" y="1234" width="40" height="41" fill="#393939"/>
<rect x="290" y="1234" width="41" height="41" fill="#353535"/>
<rect x="331" y="1234" width="40" height="41" fill="#393939"/>
<rect x="371" y="1234" width="81" height="41" fill="#3f3f3f"/>
<rect x="452" y="1234" width="41" height="41" fill="#434343"/>
<rect x="493" y="1234" width="242" height="41" fill="#5f5f5f"/>
<rect x="735" y="1234" width="162" height="41" fill="#696969"/>
<rect x="897" y="1234" width="41" height="41" fill="#5f5f5f"/>
<rect x="938" y="1234" width="40" height="41" fill="#555555"/>
<rect x="978" y="1234" width="81" height="41" fill="#747474"/>
<rect x="1059" y="1234" width="40" height="41" fill="#696969"/>
<rect x="1099" y="1234" width="41" height="41" fill="#555555"/>
<rect x="1140" y="1234" width="40" height="41" fill="#434343"/>
<rect x="1180" y="1234" width="41" height="41" fill="#3f3f3f"/>
<rect x="1221" y="1234" width="167" height="41" fill="#393939"/>
<rect x="0" y="1275" width="250" height="84" fill="#3f3f3f"/>
<rect x="250" y="1275" width="121" height="84" fill="#393939"/>
<rect x="371" y="1275" width="41" height="84" fill="#3f3f3f"/>
<rect x="412" y="1275" width="40" height="84" fill="#393939"/>
<rect x="452" y="1275" width="81" height="84" fill="#3f3f3f"/>
<rect x="533" y="1275" width="41" height="84" fill="#4c4c4c"/>
<rect x="574" y="1275" width="40" height="84" fill="#5f5f5f"/>
<rect x="614" y="1275" width="40" height="84" fill="#555555"/>
<rect x="654" y="1275" width="81" height="84" fill="#5f5f5f"/>
<rect x="735" y="1275" width="41" height="84" fill="#555555"/>
<rect x="776" y="1275" width="40" height="84" fill="#5f5f5f"/>
<rect x="816" y="1275" width="41" height="84" fill="#4c4c4c"/>
<rect x="857" y="1275" width="81" height="84" fill="#5f5f5f"/>
<rect x="938" y="1275" width="40" height="84" fill="#555555"/>
<rect x="978" y="1275" width="81" height="84" fill="#747474"/>
<rect x="1059" y="1275" width="40" height="84" fill="#696969"/>
<rect x="1099" y="1275" width="41" height="84" fill="#555555"/>
<rect x="1140" y="1275" width="40" height="84" fill="#434343"/>
<rect x="1180" y="1275" width="41" height="84" fill="#3f3f3f"/>
<rect x="1221" y="1275" width="167" height="84" fill="#393939"/>
</g>
<g filter="url(#bl2)">
<ellipse cx="200" cy="410" rx="18" ry="9" fill="#c7c7c7"/>
<ellipse cx="245" cy="412" rx="26" ry="10" fill="#c5c5c5"/>
<ellipse cx="298" cy="398" rx="10" ry="8" fill="#cfcfcf"/>
<ellipse cx="335" cy="410" rx="28" ry="14" fill="#c9c9c9" transform="rotate(30 335 410)"/>
<ellipse cx="347" cy="418" rx="12" ry="8" fill="#cfcfcf" transform="rotate(30 347 418)"/>
<ellipse cx="294" cy="690" rx="22" ry="13" fill="#c7c7c7"/>
<ellipse cx="420" cy="700" rx="14" ry="80" fill="#c4c4c4" transform="rotate(20 420 700)"/>
<ellipse cx="400" cy="735" rx="7" ry="14" fill="#cecece" transform="rotate(20 400 735)"/>
<ellipse cx="462" cy="880" rx="7" ry="75" fill="#c7c7c7" transform="rotate(-12 462 880)"/>
<ellipse cx="502" cy="905" rx="6" ry="90" fill="#bbbbbb" transform="rotate(-8 502 905)"/>
<ellipse cx="395" cy="935" rx="30" ry="9" fill="#c0c0c0" transform="rotate(-20 395 935)"/>
<ellipse cx="803" cy="914" rx="17" ry="14" fill="#d1d1d1"/>
<ellipse cx="807" cy="916" rx="7" ry="6" fill="#d8d8d8"/>
<ellipse cx="640" cy="1000" rx="95" ry="11" fill="#c5c5c5" transform="rotate(31 640 1000)"/>
<ellipse cx="705" cy="1065" rx="40" ry="14" fill="#bdbdbd" transform="rotate(45 705 1065)"/>
<ellipse cx="838" cy="1150" rx="38" ry="10" fill="#b4b4b4" transform="rotate(45 838 1150)"/>
<ellipse cx="945" cy="822" rx="10" ry="28" fill="#c7c7c7" transform="rotate(-20 945 822)"/>
<ellipse cx="910" cy="887" rx="22" ry="9" fill="#c9c9c9"/>
<ellipse cx="1000" cy="851" rx="14" ry="16" fill="#cacaca"/>
<ellipse cx="1012" cy="725" rx="6" ry="12" fill="#c5c5c5"/>
<ellipse cx="90" cy="826" rx="20" ry="15" fill="#3f3f3f"/>
<ellipse cx="1113" cy="336" rx="16" ry="6" fill="#777777" transform="rotate(25 1113 336)"/>
<polygon points="560.1,703.6 570.5,680.7 589.2,666.1 614.2,649.5 630.9,632.8 649.6,628.6 668.4,628.6 685.0,639.1 699.6,651.6 716.3,666.1 732.9,680.7 747.5,691.1 747.5,703.6 739.2,722.4 732.9,732.8 741.2,753.6 741.2,774.4 730.8,789.0 699.6,791.1 668.4,793.2 649.6,803.6 633.0,793.2 614.2,780.7 597.6,768.2 580.9,751.5 568.4,732.8" fill="#bebebe"/>
<polygon points="588.2,703.6 595.5,695.3 612.1,684.9 628.8,674.5 641.3,659.9 653.8,649.5 668.4,643.2 682.9,643.2 693.3,649.5 705.8,659.9 716.3,670.3 728.8,682.8 741.2,691.1 747.5,693.2 743.3,707.8 737.1,720.3 726.7,725.5 718.3,730.7 715.2,736.9 724.6,745.3 732.9,751.5 741.2,759.8 737.1,774.4 730.8,782.8 710.0,786.9 689.2,784.8 674.6,789.0 657.9,786.9 641.3,782.8 626.7,774.4 614.2,764.0 601.7,751.5 593.4,741.1 589.2,728.6 587.1,716.1" fill="#d1d1d1"/>
<polygon points="597.6,711.9 616.3,699.5 637.1,684.9 653.8,670.3 668.4,659.9 682.9,657.8 697.5,668.2 712.1,680.7 726.7,693.2 732.9,703.6 722.5,714.0 710.0,722.4 703.8,732.8 707.9,745.3 722.5,755.7 724.6,766.1 710.0,774.4 689.2,774.4 668.4,776.5 647.5,774.4 628.8,764.0 614.2,751.5 603.8,736.9 597.6,724.4" fill="#d8d8d8"/>
<polygon points="605.9,718.2 626.7,705.7 649.6,691.1 674.6,674.5 695.4,678.6 703.8,695.3 687.1,711.9 674.6,728.6 666.3,747.3 645.5,755.7 624.6,749.4 610.1,732.8" fill="#dbdbdb"/>
<ellipse cx="621" cy="732" rx="7" ry="11" fill="#dfdfdf" transform="rotate(20 621 732)"/>
</g>
</g>
<path d="M70,90 L1288,90 L1288,195.7 L226.5,214.5 L212.5,280 L190,370 L171,465.5 L150,550 L128,630 L105,709 L90,760 L75,806 L72,813 L66,813 Z" fill="#000"/>
<path d="M592.8,724 L594.6,731.4 L598.3,731.8 M604,728.4 L604,731.3 L600.8,732" fill="none" stroke="#fff" stroke-width="2.2" stroke-linecap="round" stroke-linejoin="round"/>
<g stroke="#fff" stroke-width="2.08" stroke-dasharray="2.08 3.44" fill="none">
<line x1="249.9" y1="94.5" x2="249.9" y2="1309.2" stroke-dashoffset="2.2"/>
<line x1="492.6" y1="94.5" x2="492.6" y2="1309.2" stroke-dashoffset="2.2"/>
<line x1="735.4" y1="94.5" x2="735.4" y2="1309.2" stroke-dashoffset="2.2"/>
<line x1="978.1" y1="94.5" x2="978.1" y2="1309.2" stroke-dashoffset="2.2"/>
<line x1="1220.9" y1="94.5" x2="1220.9" y2="1309.2" stroke-dashoffset="2.2"/>
<line x1="70.5" y1="223.0" x2="1283.4" y2="223.0" stroke-dashoffset="0.6"/>
<line x1="70.5" y1="465.7" x2="1283.4" y2="465.7" stroke-dashoffset="0.6"/>
<line x1="70.5" y1="708.4" x2="1283.4" y2="708.4" stroke-dashoffset="0.6"/>
<line x1="70.5" y1="951.2" x2="1283.4" y2="951.2" stroke-dashoffset="0.6"/>
<line x1="70.5" y1="1193.9" x2="1283.4" y2="1193.9" stroke-dashoffset="0.6"/>
</g>
</g>
<rect x="70.4" y="95.4" width="1213.1" height="1213.9" fill="none" stroke="#000" stroke-width="2.8"/>
<path d="M69,1310.7 L69,1284 Q69,1280 73,1280 L379,1280 Q383,1280 383,1284 L383,1310.7 Z" fill="#000"/>
<text x="75" y="1299.7" font-size="17.5" font-weight="bold" fill="#fff">Copyright © 2020-2025 Dapiya</text>
<text x="68.6" y="45.2" font-size="26.7" textLength="513.2" lengthAdjust="spacing">HIMAWARI-9 BAND14-CA TARGET AREA</text>
<text x="69.7" y="74.5" font-size="26.7" textLength="375.0" lengthAdjust="spacing">Time: 2025/12/24 09:15:00Z</text>
<g font-size="16.67">
<text x="1284.2" y="53.7" text-anchor="end" font-size="17.4">[dmax, dmin]=(-49.106, -80.48)</text>
<text x="1284.2" y="74.8" text-anchor="end" font-size="17.4">09S.GRANT | 40kt, 997mb</text>
<text x="1323.8" y="83.7" font-size="17.4">°C</text>
<text x="251.1" y="1332.3" text-anchor="middle" textLength="38.05" lengthAdjust="spacing">94°E</text>
<text x="493.8" y="1332.3" text-anchor="middle" textLength="38.05" lengthAdjust="spacing">96°E</text>
<text x="736.6" y="1332.3" text-anchor="middle" textLength="38.05" lengthAdjust="spacing">98°E</text>
<text x="979.4" y="1332.3" text-anchor="middle" textLength="48.66" lengthAdjust="spacing">100°E</text>
<text x="1222.1" y="1332.3" text-anchor="middle" textLength="48.66" lengthAdjust="spacing">102°E</text>
<text x="62.8" y="228.9" text-anchor="end" textLength="27.50" lengthAdjust="spacing">8°S</text>
<text x="62.8" y="470.6" text-anchor="end" textLength="37.11" lengthAdjust="spacing">10°S</text>
<text x="62.8" y="713.3" text-anchor="end" textLength="37.11" lengthAdjust="spacing">12°S</text>
<text x="62.8" y="956.1" text-anchor="end" textLength="37.11" lengthAdjust="spacing">14°S</text>
<text x="62.8" y="1198.8" text-anchor="end" textLength="37.11" lengthAdjust="spacing">16°S</text><text x="1327.5" y="183.7" font-size="17.4">40</text>
<text x="1327.5" y="264.6" font-size="17.4">30</text>
<text x="1327.5" y="345.6" font-size="17.4">20</text>
<text x="1327.5" y="426.5" font-size="17.4">10</text>
<text x="1327.5" y="507.4" font-size="17.4">0</text>
<text x="1327.5" y="588.3" font-size="17.4">−10</text>
<text x="1327.5" y="669.2" font-size="17.4">−20</text>
<text x="1327.5" y="750.2" font-size="17.4">−30</text>
<text x="1327.5" y="831.1" font-size="17.4">−40</text>
<text x="1327.5" y="912.0" font-size="17.4">−50</text>
<text x="1327.5" y="992.9" font-size="17.4">−60</text>
<text x="1327.5" y="1073.8" font-size="17.4">−70</text>
<text x="1327.5" y="1154.8" font-size="17.4">−80</text>
<text x="1327.5" y="1235.7" font-size="17.4">−90</text>
</g>
<rect x="1296.6" y="95.6" width="23.8" height="1213.4" fill="url(#cbg)" stroke="#000" stroke-width="1.2"/>
</svg>
</body></html>
